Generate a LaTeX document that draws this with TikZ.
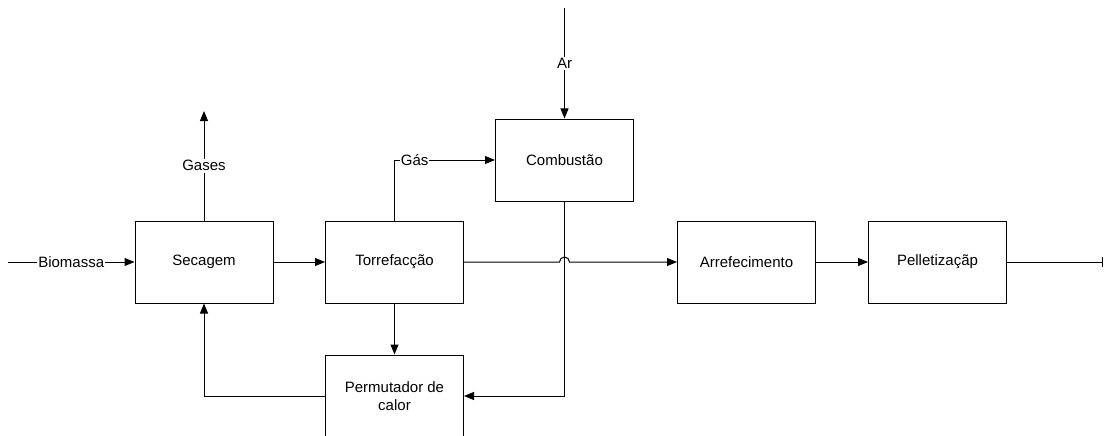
\documentclass[tikz,border=0pt]{standalone}
\usepackage{fontspec}
\setmainfont{Liberation Sans}
\usetikzlibrary{arrows.meta}
\begin{document}
\begin{tikzpicture}[x=1pt,y=1pt,
  stagebox/.style={draw=black, line width=1pt, minimum width=138pt, minimum height=82pt,
    inner sep=0pt, align=center, font=\fontsize{15}{18}\selectfont},
  flow/.style={line width=1pt, draw=black, -{Triangle[length=10pt,width=8pt]}},
  flowlabel/.style={fill=white, inner xsep=1pt, inner ysep=1.5pt, font=\fontsize{15}{18}\selectfont}]
\useasboundingbox (0,0) rectangle (1104,-436);

% process stages
\node[stagebox] (sec)  at (204,-262)   {Secagem};
\node[stagebox] (tor)  at (394.5,-262) {Torrefacção};
\node[stagebox] (comb) at (564.5,-160) {Combustão};
\node[stagebox] (arr)  at (746.5,-262) {Arrefecimento};
\node[stagebox] (pel)  at (937.5,-262) {Pelletizaçãp};
\node[stagebox] (perm) at (394.5,-396) {Permutador de\\calor};

% free ends of the inlet and outlet streams
\coordinate (bioin)  at (8,-262);
\coordinate (gasout) at (204,-111);
\coordinate (arin)   at (564.5,-8);
\coordinate (prodout) at (1103,-262);
\coordinate (hopL)   at (559.5,-262);

% streams
\draw[flow] (bioin) -- node[flowlabel] {Biomassa} (sec.west);
\draw[flow] (sec.north) -- node[flowlabel] {Gases} (gasout);
\draw[flow] (sec.east) -- (tor.west);
\draw[flow] (tor.north) |- node[flowlabel, pos=0.6] {Gás} (comb.west);
\draw[flow] (arin) -- node[flowlabel] {Ar} (comb.north);
\draw[flow] (tor.east) -- (hopL) arc[start angle=180, end angle=0, radius=5pt] -- (arr.west);
\draw[flow] (arr.east) -- (pel.west);
\draw[line width=1pt, -{Bar[width=10pt]}] (pel.east) -- (prodout);
\draw[flow] (tor.south) -- (perm.north);
\draw[flow] (comb.south) |- (perm.east);
\draw[flow] (perm.west) -| (sec.south);
\end{tikzpicture}
\end{document}
